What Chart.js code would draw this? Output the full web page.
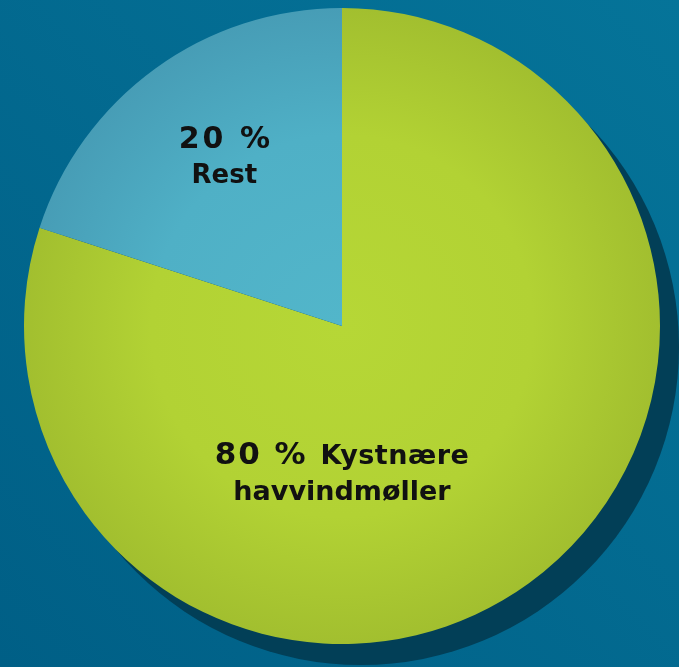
<!DOCTYPE html>
<html>
<head>
<meta charset="utf-8">
<script src="https://cdn.jsdelivr.net/npm/chart.js@4"></script>
<style>
  html, body { margin: 0; padding: 0; background: #006a91; }
  #wrap { width: 679px; height: 667px; position: relative; }
</style>
</head>
<body>
<div id="wrap"><canvas id="c" width="679" height="667"></canvas></div>
<script>
// ---- data ----
const categories = ["Kystnære havvindmøller", "Rest"];
const shares = [80, 20];
const percentLabels = ["80 %", "20 %"];
const nameLines = [["Kystnære", "havvindmøller"], ["Rest"]];

// background
const bgPlugin = {
  id: 'bg',
  beforeDraw(chart) {
    const ctx = chart.ctx;
    const g = ctx.createLinearGradient(679, 0, 0, 667);
    g.addColorStop(0, '#057499');
    g.addColorStop(1, '#005f86');
    ctx.save();
    ctx.fillStyle = g;
    ctx.fillRect(0, 0, chart.width, chart.height);
    ctx.restore();
  }
};

// offset shadow behind the pie
const shadowPlugin = {
  id: 'pieShadow',
  beforeDatasetsDraw(chart) {
    const arc = chart.getDatasetMeta(0).data[0];
    if (!arc) return;
    const {x, y, outerRadius} = arc.getProps(['x', 'y', 'outerRadius'], true);
    const ctx = chart.ctx;
    ctx.save();
    ctx.beginPath();
    ctx.arc(x + 19, y + 21, outerRadius, 0, Math.PI * 2);
    ctx.fillStyle = '#023f57';
    ctx.fill();
    ctx.restore();
  }
};

const FONT = '"DejaVu Sans", "Open Sans", sans-serif';

function spaced(ctx, px) { if ('letterSpacing' in ctx) ctx.letterSpacing = px + 'px'; }

// labels
const labelPlugin = {
  id: 'pieLabels',
  afterDatasetsDraw(chart) {
    const arc = chart.getDatasetMeta(0).data[0];
    const {x, y, outerRadius: R} = arc.getProps(['x', 'y', 'outerRadius'], true);
    const ctx = chart.ctx;
    ctx.save();
    ctx.fillStyle = '#111111';
    ctx.textBaseline = 'alphabetic';
    // Rest slice (index 1)
    ctx.textAlign = 'center';
    ctx.font = 'bold 30px ' + FONT;
    spaced(ctx, 3);
    ctx.fillText(percentLabels[1], x - 0.37 * R + 1.5, y - 0.56 * R);
    ctx.font = 'bold 26px ' + FONT;
    spaced(ctx, 0);
    ctx.fillText(nameLines[1][0], x - 0.37 * R, y - 0.45 * R);
    // Green slice (index 0), line 1 mixed size
    const big = 'bold 31px ' + FONT;
    const small = 'bold 27px ' + FONT;
    ctx.font = big;
    spaced(ctx, 2);
    const w1 = ctx.measureText(percentLabels[0] + ' ').width;
    ctx.font = small;
    spaced(ctx, 0.5);
    const w2 = ctx.measureText(nameLines[0][0]).width;
    const startX = x - (w1 + w2) / 2;
    const by1 = y + 0.435 * R;
    ctx.textAlign = 'left';
    ctx.font = big;
    spaced(ctx, 2);
    ctx.fillText(percentLabels[0] + ' ', startX, by1);
    ctx.font = small;
    spaced(ctx, 0.5);
    ctx.fillText(nameLines[0][0], startX + w1, by1);
    ctx.textAlign = 'center';
    spaced(ctx, 0);
    ctx.fillText(nameLines[0][1], x, y + 0.548 * R);
    ctx.restore();
  }
};

function sliceFill(context) {
  const chart = context.chart;
  const ca = chart.chartArea;
  if (!ca) return context.dataIndex === 0 ? '#b0cf33' : '#4fb0c6';
  const cx = (ca.left + ca.right) / 2, cy = (ca.top + ca.bottom) / 2;
  const r = Math.min(ca.right - ca.left, ca.bottom - ca.top) / 2;
  const g = chart.ctx.createRadialGradient(cx, cy, 0, cx, cy, r);
  if (context.dataIndex === 0) {
    g.addColorStop(0, '#b6d736');
    g.addColorStop(0.6, '#b2d234');
    g.addColorStop(1, '#a2bf2f');
  } else {
    g.addColorStop(0, '#52b6ca');
    g.addColorStop(0.6, '#4fb0c6');
    g.addColorStop(1, '#479db6');
  }
  return g;
}

new Chart(document.getElementById('c'), {
  type: 'pie',
  data: {
    labels: categories,
    datasets: [{
      data: shares,
      backgroundColor: sliceFill,
      borderWidth: 0,
      hoverOffset: 0
    }]
  },
  options: {
    responsive: false,
    animation: false,
    rotation: 0,
    layout: { padding: { left: 24, right: 19, top: 8, bottom: 23 } },
    plugins: {
      legend: { display: false },
      tooltip: { enabled: false }
    }
  },
  plugins: [bgPlugin, shadowPlugin, labelPlugin]
});
</script>
</body>
</html>
